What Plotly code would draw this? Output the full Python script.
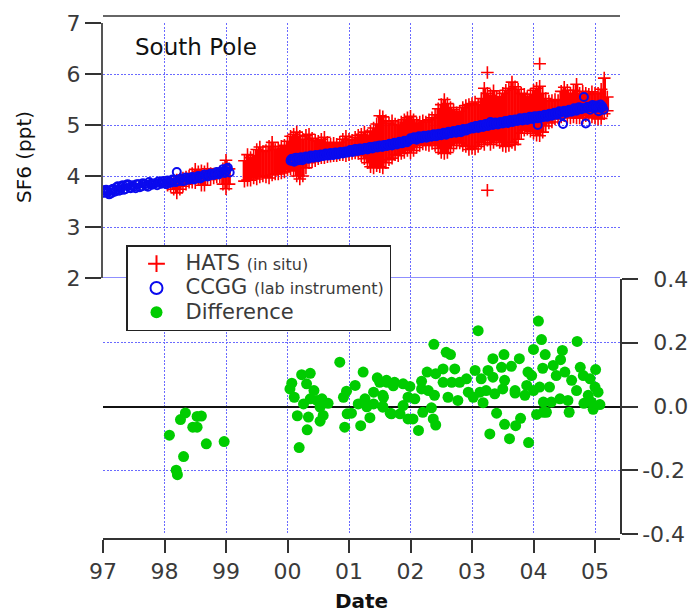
import plotly.graph_objects as go

# ---------- HATS (in situ): cloud read as upper / lower edge per date ----------
hats_dates = [1998.05,1998.10,1998.15,1998.20,1998.25,1998.30,1998.35,1998.40,1998.45,1998.50,1998.55,1998.60,1998.65,1998.70,1998.75,1998.80,1998.85,1998.90,1998.95,1999.00,1999.05,
1999.30,1999.35,1999.40,1999.45,1999.50,1999.55,1999.60,1999.65,1999.70,1999.75,1999.80,1999.85,1999.90,1999.95,
2000.00,2000.05,2000.10,2000.15,2000.20,2000.25,2000.30,2000.35,2000.40,2000.45,2000.50,2000.55,2000.60,2000.65,2000.70,2000.75,2000.80,2000.85,2000.90,2000.95,
2001.00,2001.05,2001.10,2001.15,2001.20,2001.25,2001.30,2001.35,2001.40,2001.45,2001.50,2001.55,2001.60,2001.65,2001.70,2001.75,2001.80,2001.85,2001.90,2001.95,
2002.00,2002.05,2002.10,2002.15,2002.20,2002.25,2002.30,2002.35,2002.40,2002.45,2002.50,2002.55,2002.60,2002.65,2002.70,2002.75,2002.80,2002.85,2002.90,2002.95,
2003.00,2003.05,2003.10,2003.15,2003.20,2003.25,2003.30,2003.35,2003.40,2003.45,2003.50,2003.55,2003.60,2003.65,2003.70,2003.75,2003.80,2003.85,2003.90,2003.95,
2004.00,2004.05,2004.10,2004.15,2004.20,2004.25,2004.30,2004.35,2004.40,2004.45,2004.50,2004.55,2004.60,2004.65,2004.70,2004.75,2004.80,2004.85,2004.90,2004.95,
2005.00,2005.05,2005.10,2005.15,2005.20]
hats_high = [3.82,3.86,3.90,3.92,3.94,3.96,3.98,4.00,4.05,4.13,4.08,4.10,4.08,4.14,4.05,4.04,4.05,4.08,4.14,4.31,4.14,
4.30,4.42,4.36,4.40,4.52,4.57,4.48,4.50,4.58,4.66,4.52,4.55,4.58,4.60,
4.68,4.78,4.82,4.86,4.78,4.72,4.80,4.82,4.74,4.70,4.68,4.72,4.76,4.66,4.62,4.64,4.62,4.66,4.72,4.78,
4.72,4.70,4.76,4.80,4.82,4.86,4.80,4.88,4.94,5.02,5.18,5.16,5.08,5.04,5.08,5.02,5.00,5.06,5.10,5.14,
5.17,5.10,5.04,5.06,5.08,5.06,5.10,5.14,5.20,5.32,5.40,5.50,5.42,5.34,5.30,5.24,5.27,5.34,5.38,5.40,
5.42,5.45,5.40,5.52,5.72,5.62,5.58,5.67,5.56,5.55,5.62,5.68,5.72,5.84,5.75,5.70,5.62,5.60,5.56,5.60,
5.68,5.72,5.76,5.62,5.52,5.47,5.48,5.50,5.48,5.66,5.74,5.68,5.62,5.68,5.80,5.62,5.66,5.62,5.60,5.65,
5.62,5.62,5.70,5.92,5.55]
hats_low = [3.84,3.80,3.74,3.67,3.74,3.80,3.84,3.88,3.88,3.87,3.93,3.82,3.82,3.93,3.93,3.96,3.98,3.98,3.84,3.75,3.84,
3.90,3.92,3.92,3.96,3.94,3.98,4.00,3.98,3.96,4.02,4.04,4.04,4.06,4.08,
4.12,4.14,4.10,4.00,3.94,4.00,4.16,4.26,4.28,4.30,4.34,4.36,4.36,4.38,4.39,4.40,4.40,4.42,4.42,4.40,
4.42,4.44,4.45,4.44,4.40,4.34,4.26,4.18,4.16,4.20,4.18,4.16,4.26,4.32,4.35,4.42,4.40,4.44,4.46,4.50,
4.45,4.50,4.56,4.60,4.63,4.62,4.60,4.64,4.60,4.54,4.46,4.44,4.46,4.54,4.60,4.65,4.65,4.60,4.58,4.52,
4.54,4.53,4.58,4.66,4.62,4.70,4.62,4.66,4.70,4.66,4.60,4.58,4.60,4.66,4.62,4.72,4.84,4.90,4.92,4.88,
4.84,4.80,4.79,4.86,4.98,5.04,5.06,5.12,5.14,5.16,5.18,5.16,5.14,5.16,5.14,5.14,5.14,5.18,5.18,5.16,
5.14,5.12,5.13,5.22,5.28]
hats_outlier_dates = [2003.25, 2003.25, 2004.10]
hats_outlier_vals = [6.03, 3.72, 6.20]

# ---------- CCGG flask samples ----------
ccgg_dates = [1997.00,1997.03,1997.06,1997.10,1997.13,1997.17,1997.20,1997.24,1997.28,1997.32,1997.36,1997.40,1997.45,1997.50,1997.55,1997.60,1997.65,1997.70,1997.75,1997.80,1997.85,1997.90,1997.95,
1998.00,1998.05,1998.10,1998.15,1998.20,1998.25,1998.30,1998.35,1998.40,1998.45,1998.50,1998.55,1998.60,1998.65,1998.70,1998.75,1998.80,1998.85,1998.90,1998.95,1999.00,1999.03,1999.06,
2000.05,2000.08,2000.11,2000.14,2000.18,2000.22,2000.26,2000.30,2000.34,2000.38,2000.42,2000.46,2000.50,2000.54,2000.58,2000.62,2000.66,2000.70,2000.74,2000.78,2000.82,2000.86,2000.90,2000.94,2000.98,
2001.02,2001.06,2001.10,2001.14,2001.18,2001.22,2001.26,2001.30,2001.34,2001.38,2001.42,2001.46,2001.50,2001.54,2001.58,2001.62,2001.66,2001.70,2001.74,2001.78,2001.82,2001.86,2001.90,2001.94,2001.98,
2002.02,2002.06,2002.10,2002.14,2002.18,2002.22,2002.26,2002.30,2002.34,2002.38,2002.42,2002.46,2002.50,2002.54,2002.58,2002.62,2002.66,2002.70,2002.74,2002.78,2002.82,2002.86,2002.90,2002.94,2002.98,
2003.02,2003.06,2003.10,2003.14,2003.18,2003.22,2003.26,2003.30,2003.34,2003.38,2003.42,2003.46,2003.50,2003.54,2003.58,2003.62,2003.66,2003.70,2003.74,2003.78,2003.82,2003.86,2003.90,2003.94,2003.98,
2004.02,2004.06,2004.07,2004.10,2004.14,2004.18,2004.22,2004.26,2004.30,2004.34,2004.38,2004.42,2004.46,2004.48,2004.50,2004.54,2004.58,2004.62,2004.66,2004.70,2004.74,2004.78,2004.82,2004.85,2004.88,2004.92,2004.96,
2005.00,2005.03,2005.06,2005.09,2005.12,2005.14,
1997.02,1997.05,1997.08,1997.12,1997.15,1997.19,1997.22,1997.26,1997.30,1997.34,1997.38,1997.43,1997.48,1997.53,1997.58,1997.63,1997.68,1997.73,1997.78,1997.83,1997.88,1997.93,1997.98,
1998.03,1998.08,1998.13,1998.18,1998.23,1998.28,1998.33,1998.38,1998.43,1998.48,1998.53,1998.58,1998.63,1998.68,1998.73,1998.78,1998.83,1998.88,1998.93,1998.98,1999.01,
2000.06,2000.10,2000.13,2000.16,2000.20,2000.24,2000.28,2000.32,2000.36,2000.40,2000.44,2000.48,2000.52,2000.56,2000.60,2000.64,2000.68,2000.72,2000.76,2000.80,2000.84,2000.88,2000.92,2000.96,
2001.00,2001.04,2001.08,2001.12,2001.16,2001.20,2001.24,2001.28,2001.32,2001.36,2001.40,2001.44,2001.48,2001.52,2001.56,2001.60,2001.64,2001.68,2001.72,2001.76,2001.80,2001.84,2001.88,2001.92,2001.96,
2002.00,2002.04,2002.08,2002.12,2002.16,2002.20,2002.24,2002.28,2002.32,2002.36,2002.40,2002.44,2002.48,2002.52,2002.56,2002.60,2002.64,2002.68,2002.72,2002.76,2002.80,2002.84,2002.88,2002.92,2002.96,
2003.00,2003.04,2003.08,2003.12,2003.16,2003.20,2003.24,2003.28,2003.32,2003.36,2003.40,2003.44,2003.48,2003.52,2003.56,2003.60,2003.64,2003.68,2003.72,2003.76,2003.80,2003.84,2003.88,2003.92,2003.96,
2004.00,2004.04,2004.08,2004.12,2004.16,2004.20,2004.24,2004.28,2004.32,2004.36,2004.40,2004.44,2004.52,2004.56,2004.60,2004.64,2004.68,2004.72,2004.76,2004.80,2004.84,2004.90,2004.94,2004.98,
2005.02,2005.05,2005.08,2005.11]
ccgg_vals = [3.72,3.68,3.71,3.64,3.66,3.75,3.70,3.80,3.72,3.82,3.74,3.84,3.76,3.79,3.84,3.78,3.86,3.81,3.88,3.83,3.86,3.89,3.85,
3.86,3.91,3.87,3.92,4.08,3.94,3.90,3.97,3.93,3.98,3.95,4.00,3.97,4.03,3.99,4.05,4.02,4.08,4.06,4.13,4.10,4.16,4.07,
4.30,4.34,4.28,4.36,4.31,4.37,4.33,4.38,4.34,4.40,4.36,4.41,4.37,4.42,4.39,4.44,4.40,4.45,4.41,4.46,4.42,4.47,4.44,4.48,4.46,
4.51,4.47,4.53,4.49,4.54,4.51,4.55,4.52,4.57,4.54,4.58,4.56,4.60,4.57,4.61,4.59,4.63,4.60,4.65,4.62,4.67,4.64,4.69,4.66,4.70,
4.72,4.76,4.71,4.78,4.74,4.79,4.75,4.80,4.77,4.82,4.78,4.83,4.80,4.85,4.81,4.87,4.84,4.88,4.85,4.90,4.86,4.92,4.89,4.93,4.94,
4.93,4.98,4.94,5.00,4.96,5.02,4.98,5.06,5.00,5.05,5.01,5.06,5.03,5.08,5.04,5.10,5.06,5.11,5.08,5.13,5.09,5.14,5.10,5.16,5.12,
5.17,5.13,5.00,5.18,5.15,5.20,5.16,5.22,5.18,5.24,5.20,5.27,5.19,5.02,5.28,5.24,5.30,5.26,5.33,5.28,5.35,5.31,5.55,5.03,5.36,5.30,5.39,
5.33,5.38,5.27,5.40,5.35,5.30,
3.67,3.73,3.68,3.72,3.74,3.69,3.78,3.71,3.80,3.73,3.82,3.77,3.82,3.76,3.84,3.80,3.84,3.79,3.85,3.85,3.82,3.87,3.90,
3.84,3.89,3.93,3.88,3.90,3.95,3.91,3.95,3.96,3.93,3.98,3.95,3.99,4.00,4.01,4.04,4.04,4.03,4.09,4.06,4.14,
4.33,4.30,4.35,4.31,4.34,4.31,4.36,4.35,4.37,4.38,4.39,4.39,4.40,4.41,4.41,4.42,4.43,4.43,4.44,4.44,4.45,4.45,4.46,4.46,
4.48,4.50,4.50,4.52,4.51,4.52,4.53,4.55,4.54,4.56,4.56,4.58,4.58,4.59,4.60,4.60,4.61,4.62,4.63,4.64,4.65,4.65,4.66,4.67,4.68,
4.74,4.73,4.74,4.75,4.76,4.76,4.77,4.77,4.79,4.79,4.80,4.81,4.82,4.82,4.84,4.84,4.85,4.86,4.87,4.87,4.88,4.89,4.90,4.91,4.92,
4.96,4.95,4.97,4.97,4.98,4.99,5.00,5.01,5.02,5.03,5.03,5.04,5.04,5.05,5.06,5.07,5.08,5.08,5.10,5.10,5.11,5.11,5.12,5.13,5.14,
5.15,5.16,5.16,5.17,5.17,5.18,5.19,5.20,5.21,5.22,5.23,5.24,5.26,5.27,5.27,5.29,5.30,5.31,5.32,5.33,5.33,5.35,5.35,5.36,
5.36,5.35,5.34,5.37]

# ---------- Difference ----------
diff_dates = [1998.08,1998.19,1998.21,1998.31,1998.26,1998.34,1998.46,1998.53,1998.53,1998.60,1998.68,1998.97,
2000.07,2000.04,2000.11,2000.23,2000.37,2000.31,2000.16,2000.34,2000.32,2000.19,2000.26,2000.37,2000.43,2000.48,2000.56,2000.53,2000.58,2000.53,2000.66,2000.85,
2000.96,2000.91,2000.93,2000.97,2001.04,2001.10,2001.19,2001.23,2001.34,2001.26,2001.15,2001.29,2001.40,2001.40,2001.46,2001.56,2001.55,2001.62,2001.67,
2001.55,2001.55,2001.50,2001.61,2001.74,2001.88,2001.99,2001.72,2001.69,2001.83,2001.96,2002.04,2002.13,2001.88,2001.96,2002.07,2002.18,2002.18,2002.29,2002.20,2002.34,2002.37,2002.41,2002.39,
2002.61,2002.77,2002.27,2002.38,2002.58,2002.65,2002.41,2002.53,2002.72,2002.53,2002.67,2002.80,2002.91,2002.94,2003.05,2003.10,2003.02,2003.18,2003.13,2003.23,2003.15,2003.26,2003.34,2003.52,2003.77,2003.64,2003.48,2003.37,2003.34,2003.53,2003.50,2003.40,2003.29,2003.53,2003.61,2003.71,2003.79,2003.92,
2003.70,2003.70,2003.86,2003.91,2003.97,2003.89,2004.00,2004.08,2004.13,2004.19,2004.15,2004.05,2004.16,2004.16,2004.21,2004.10,2004.00,2004.26,2004.29,2004.32,2004.37,2004.51,2004.44,2004.47,2004.43,2004.58,2004.56,2004.62,2004.70,2004.71,2004.76,2004.81,2004.92,
2005.01,2005.00,2004.89,2004.82,2004.97,2005.08,2005.05,2004.94]
diff_vals = [-0.09,-0.20,-0.214,-0.157,-0.041,-0.02,-0.065,-0.065,-0.031,-0.03,-0.117,-0.11,
0.073,0.055,0.029,0.10,0.104,0.071,-0.029,-0.033,-0.073,-0.129,0.008,0.024,0.05,0.019,0.024,-0.002,-0.028,-0.046,0.01,0.139,
0.048,0.029,-0.065,-0.023,-0.021,0.066,-0.06,0.108,-0.035,0.024,0.008,-0.001,0.008,0.045,0.09,0.029,-0.002,0.076,-0.021,
0.0,0.035,0.076,0.082,0.076,0.071,0.063,0.065,-0.023,-0.023,-0.039,-0.039,-0.075,0.003,0.029,0.024,0.079,0.055,0.05,-0.018,-0.004,-0.039,-0.058,0.035,
0.029,0.019,0.108,0.195,0.17,0.163,0.103,0.118,0.118,0.076,0.076,0.076,0.087,0.045,0.113,0.238,0.029,0.012,0.045,0.05,0.087,0.113,0.15,0.163,0.15,0.126,0.123,0.04,0.092,0.082,0.055,-0.021,-0.086,-0.056,-0.101,-0.06,-0.037,-0.113,
0.05,0.042,0.035,0.108,0.097,0.066,0.179,0.268,0.21,0.163,0.12,-0.025,0.014,-0.018,-0.018,0.061,0.05,0.061,0.014,0.129,0.097,0.108,0.147,0.176,0.024,-0.018,0.019,0.082,0.05,0.204,0.123,0.097,0.087,
0.116,0.061,0.035,0.01,-0.009,0.006,0.045,0.014]

year_ticks = [1997,1998,1999,2000,2001,2002,2003,2004,2005]
year_labels = ["97","98","99","00","01","02","03","04","05"]
left_ticks = [2,3,4,5,6,7]
right_ticks = [-0.4,-0.2,0.0,0.2,0.4]
right_labels = ["-0.4","-0.2","\u20020.0","\u20020.2","\u20020.4"]

assert len(hats_dates) == len(hats_high) == len(hats_low), (len(hats_dates), len(hats_high), len(hats_low))
assert len(ccgg_dates) == len(ccgg_vals), (len(ccgg_dates), len(ccgg_vals))
assert len(diff_dates) == len(diff_vals), (len(diff_dates), len(diff_vals))

FONT = "DejaVu Sans"
GRID = "#6a6aff"
RED = "#ff0000"
BLUE = "#0a0aee"
GREEN = "#00cc00"
INK = "#3a3a3a"
DOTS = "2px,1.5px"

W, H = 690, 613
L, R, T, B = 103, 620, 16, 539
PH = B - T
def fy(py):
    return (B - py) / PH
def fx(px):
    return (px - L) / (R - L)

hats_span = [h - l for h, l in zip(hats_high, hats_low)]
zeros = [0] * len(hats_dates)
plus = dict(symbol="cross-thin", size=9, color=RED, line=dict(color=RED, width=1.6))
big = '<span style="font-size:21px">%s</span>'
small = '<span style="font-size:16px">%s</span>'

fig = go.Figure()
fig.add_trace(go.Scatter(x=hats_dates, y=hats_high, mode="markers", marker=plus, yaxis="y",
    name=big % "HATS " + small % "(in situ)",
    error_y=dict(type="data", symmetric=False, array=zeros, arrayminus=hats_span, color=RED, thickness=3.6, width=0)))
fig.add_trace(go.Scatter(x=hats_dates, y=hats_low, mode="markers", marker=plus, yaxis="y", showlegend=False))
fig.add_trace(go.Scatter(x=hats_outlier_dates, y=hats_outlier_vals, mode="markers", marker=plus, yaxis="y", showlegend=False))
fig.add_trace(go.Scatter(x=ccgg_dates, y=ccgg_vals, mode="markers", yaxis="y",
    name=big % "CCGG " + small % "(lab instrument)",
    marker=dict(symbol="circle-open", size=8, color=BLUE, line=dict(color=BLUE, width=2))))
fig.add_trace(go.Scatter(x=diff_dates, y=diff_vals, mode="markers", yaxis="y2", name=big % "Difference",
    marker=dict(symbol="circle", size=11, color=GREEN)))

fig.update_layout(
    width=W, height=H, autosize=False,
    margin=dict(l=L, r=W - R, t=T, b=H - B, pad=0),
    paper_bgcolor="white", plot_bgcolor="white",
    font=dict(family=FONT, color=INK, size=21),
    xaxis=dict(range=[1997, 1997 + (R - L) / 61.5], tickvals=year_ticks, ticktext=year_labels,
        anchor="free", position=0, automargin=False,
        ticks="outside", ticklen=13, tickwidth=1.5, tickcolor="#333333",
        showline=True, linecolor="#333333", linewidth=1.5,
        showgrid=True, gridcolor=GRID, griddash=DOTS, gridwidth=1, zeroline=False,
        tickfont=dict(size=22, family=FONT, color=INK),
        title=dict(text="Date", font=dict(size=20, family=FONT, color="#111111", weight=700), standoff=12)),
    yaxis=dict(domain=[fy(278), fy(23)], range=[2, 7], tickvals=left_ticks, automargin=False,
        ticks="outside", ticklen=16, tickwidth=1.5, tickcolor="#333333",
        showline=True, linecolor="#555555", linewidth=2,
        showgrid=True, gridcolor=GRID, griddash=DOTS, gridwidth=1, zeroline=False,
        tickfont=dict(size=22, family=FONT, color=INK)),
    yaxis2=dict(domain=[fy(534), fy(279)], range=[-0.4, 0.4], side="right", anchor="x", automargin=False,
        tickvals=right_ticks, ticktext=right_labels,
        ticks="outside", ticklen=16, tickwidth=1.5, tickcolor="#333333",
        showline=True, linecolor="#333333", linewidth=1.5,
        showgrid=True, gridcolor=GRID, griddash=DOTS, gridwidth=1,
        zeroline=True, zerolinecolor="#111111", zerolinewidth=1.6,
        tickfont=dict(size=22, family=FONT, color=INK)),
    legend=dict(x=fx(126), y=fy(245), xanchor="left", yanchor="top",
        bgcolor="white", bordercolor="#222222", borderwidth=1.5,
        font=dict(size=16.4, family=FONT, color=INK), itemsizing="constant", itemwidth=48,
        entrywidth=194, entrywidthmode="pixels", tracegroupgap=0),
    shapes=[
        dict(type="line", xref="paper", yref="paper", x0=0, x1=1, y0=1, y1=1, line=dict(color="#333333", width=1.5)),
        dict(type="line", xref="paper", yref="y", x0=0, x1=1, y0=2, y1=2, line=dict(color=GRID, width=1.5), layer="below"),
    ],
    annotations=[
        dict(text="South Pole", xref="paper", yref="paper", x=fx(133), y=fy(47), xanchor="left", yanchor="middle",
             showarrow=False, font=dict(size=23, family=FONT, color="#111111")),
        dict(text="SF6 (ppt)", xref="paper", yref="paper", x=fx(24), y=fy(157), xanchor="center", yanchor="middle",
             textangle=-90, showarrow=False, font=dict(size=20, family=FONT, color="#111111")),
    ],
)
fig.write_html("out.html", config={"displayModeBar": False},
               post_script='document.body.style.margin="0";document.documentElement.style.overflow="hidden";')
